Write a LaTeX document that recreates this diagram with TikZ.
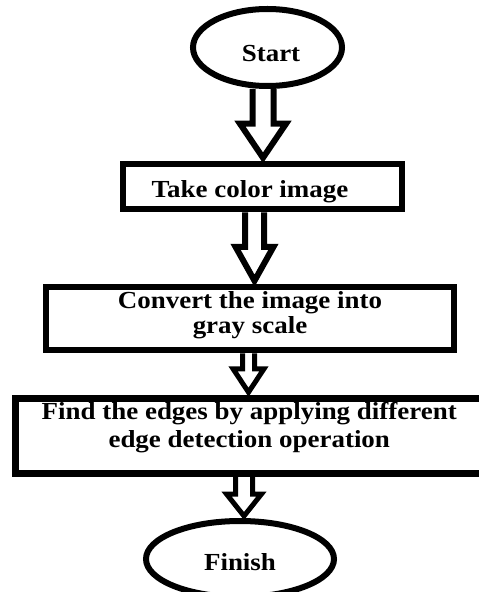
\documentclass[tikz,border=0pt]{standalone}
\usepackage{fontspec}
\setmainfont[FakeStretch=1.1]{Liberation Serif}
\usetikzlibrary{calc,shapes.geometric}
\begin{document}
\begin{tikzpicture}[x=1bp,y=-1bp,
  lbl/.style={font=\bfseries\fontsize{24.5bp}{25bp}\selectfont, text=black, align=center},
  term/.style={ellipse, draw=black, line width=6bp, inner sep=0pt, lbl},
  proc/.style={rectangle, draw=black, line width=6.5bp, inner sep=0pt, lbl},
  barrow/.style n args={4}{draw=black, line join=miter,
    to path={let \p1=(\tikztostart), \p2=(\tikztotarget) in
      (\x1-#1,\y1) -- (\x1-#1,\y2+#3) -- (\x1-#2,\y2+#3) -- (\x1,\y2+#4)
      -- (\x1+#2,\y2+#3) -- (\x1+#1,\y2+#3) -- (\x1+#1,\y1)}}
]
\path[use as bounding box, clip] (0,0) rectangle (479,592);
\fill[white] (0,0) rectangle (479,592);

\node[term, minimum width=149bp, minimum height=77bp, text height=29bp, text depth=0pt]
  (start) at (267.5,47.5) {\hspace*{7bp}Start};
\node[proc, minimum width=279bp, minimum height=45bp, text height=21bp, text depth=0pt]
  (box1) at (262.5,186.5) {Take color image\hspace*{25bp}};
\node[proc, minimum width=408bp, minimum height=63bp, text height=29bp, text depth=0pt]
  (box2) at (250,318.5) {Convert the image into\\ gray scale};
\node[proc, minimum width=467.5bp, minimum height=75bp, text height=22bp, text depth=0pt,
  font=\bfseries\fontsize{24.5bp}{28bp}\selectfont]
  (box3) at (249.25,436) {Find the edges by applying different\\ edge detection operation};
\node[term, minimum width=188bp, minimum height=76bp, text height=22bp, text depth=0pt]
  (finish) at (240,559) {Finish};

\coordinate (ax1) at (263,0);
\coordinate (ax2) at (254.5,0);
\coordinate (ax3) at (248.5,0);
\coordinate (ax4) at (244,0);

\draw[barrow={10.5bp}{23bp}{37bp}{3bp}, line width=6bp] (start.south -| ax1) to (box1.north -| ax1);
\draw[barrow={9.5bp}{19bp}{37bp}{3bp}, line width=6bp] (box1.south -| ax2) to (box2.north -| ax2);
\draw[barrow={6bp}{15.5bp}{26.5bp}{3bp}, line width=5bp] (box2.south -| ax3) to (box3.north -| ax3);
\draw[barrow={8.5bp}{17.5bp}{24bp}{2bp}, line width=5bp] (box3.south -| ax4) to (finish.north -| ax4);
\end{tikzpicture}
\end{document}
